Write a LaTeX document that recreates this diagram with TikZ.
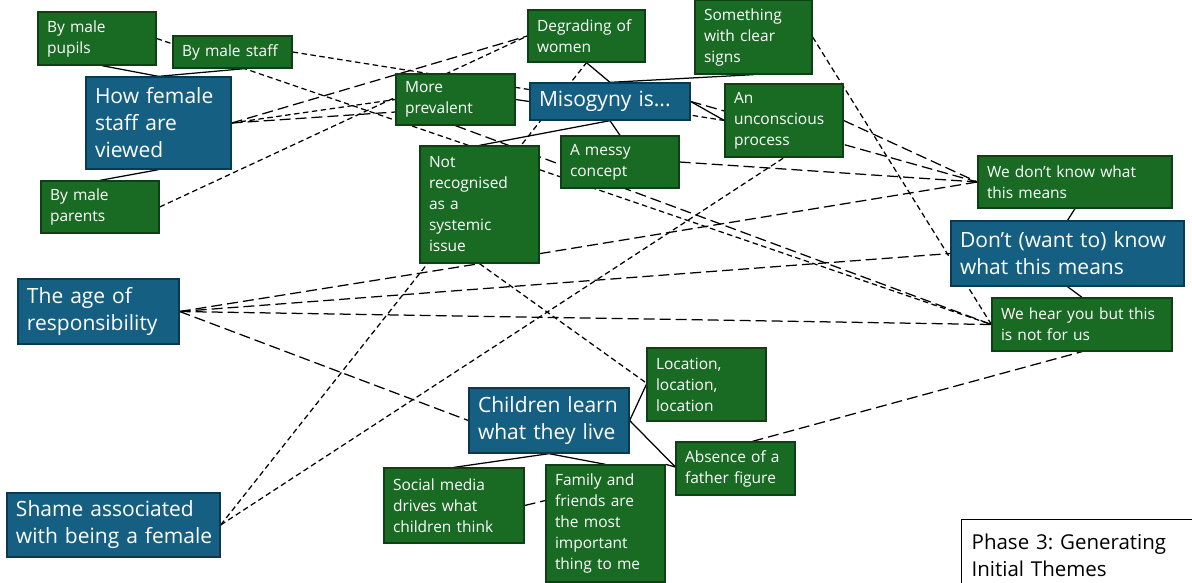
\documentclass[tikz,border=0pt]{standalone}
\usepackage{fontspec}
\setmainfont{Open Sans}
\usetikzlibrary{backgrounds}
\definecolor{gfill}{HTML}{196B24}
\definecolor{gline}{HTML}{0E3F15}
\definecolor{bfill}{HTML}{156082}
\definecolor{bline}{HTML}{0B3A50}
\tikzset{
  box/.style={draw, line width=1.3pt, inner xsep=9pt, inner ysep=2pt, align=left, text=white},
  gbox/.style={box, fill=gfill, draw=gline, font=\fontsize{15.5}{21}\selectfont},
  bbox/.style={box, fill=bfill, draw=bline, font=\fontsize{21}{27}\selectfont},
  con/.style={line width=1.25pt, black},
  sd/.style={con, dash pattern=on 5.5pt off 3.5pt},
  ld/.style={con, dash pattern=on 11pt off 5pt},
}
\begin{document}
\lefthyphenmin=100 \righthyphenmin=100 \hyphenpenalty=10000
\begin{tikzpicture}[x=1pt,y=-1pt]
\useasboundingbox (0,0) rectangle (1192,582);

% boxes
\node[gbox, text width=100pt, minimum height=53pt] (pupils) at (97,38.5) {By~male\\pupils};
\node[gbox, text width=101pt, minimum height=32pt] (staff) at (232.5,52) {By~male~staff};
\node[bbox, text width=127pt, minimum height=92pt] (howfemale) at (158.5,123) {How~female\\staff~are\\viewed};
\node[gbox, text width=100pt, minimum height=52pt] (parents) at (100,207) {By~male\\parents};
\node[gbox, text width=99pt, minimum height=52pt] (degrading) at (586.5,36) {Degrading~of\\women};
\node[gbox, text width=99pt, minimum height=74pt] (something) at (753.5,37) {Something\\with~clear\\signs};
\node[gbox, text width=101pt, minimum height=51pt] (prevalent) at (455.5,99.5) {More\\prevalent};
\node[bbox, text width=142pt, minimum height=37pt] (misogyny) at (610,101.5) {Misogyny~is...};
\node[gbox, text width=100pt, minimum height=73pt] (unconscious) at (784,120.5) {An\\unconscious\\process};
\node[gbox, text width=101pt, minimum height=117pt] (notrec) at (479.5,204.5) {Not\\recognised\\as~a\\systemic\\issue};
\node[gbox, text width=100pt, minimum height=52pt] (messy) at (620,162) {A~messy\\concept};
\node[gbox, text width=176pt, minimum height=52pt] (dontknowG) at (1075,182) {We~don’t~know~what\\this~means};
\node[bbox, text width=215pt, minimum height=65pt] (dontwant) at (1067.5,253.5) {Don’t~(want~to)~know\\what~this~means};
\node[gbox, text width=162pt, minimum height=53pt] (hear) at (1082,324.5) {We~hear~you~but~this\\is~not~for~us};
\node[bbox, text width=143pt, minimum height=65pt] (age) at (98.5,311.5) {The~age~of\\responsibility};
\node[bbox, text width=195pt, minimum height=64pt] (shame) at (113.5,525) {Shame~associated\\with~being~a~female};
\node[bbox, text width=142pt, minimum height=65pt] (children) at (549,420.5) {Children~learn\\what~they~live};
\node[gbox, text width=101pt, minimum height=73pt] (location) at (706.5,384.5) {Location,\\location,\\location};
\node[gbox, text width=101pt, minimum height=53pt] (absence) at (735.5,468.5) {Absence~of~a\\father~figure};
\node[gbox, text width=122pt, minimum height=75pt] (social) at (454,505.5) {Social~media\\drives~what\\children~think};
\node[gbox, text width=101pt, minimum height=117pt] (family) at (605.5,523.5) {Family~and\\friends~are\\the~most\\important\\thing~to~me};
\node[draw=black, line width=1.3pt, fill=white, anchor=north west, text width=230pt, inner xsep=10pt, inner ysep=4pt, minimum height=72pt, align=left, font=\fontsize{20.5}{27}\selectfont] (phase) at (961,519) {Phase~3:~Generating\\Initial~Themes};

\begin{scope}[on background layer]
% solid connectors
\draw[con] ([xshift=5pt]pupils.south) -- (howfemale.north);
\draw[con] ([xshift=12pt]staff.south) -- (howfemale.north);
\draw[con] (howfemale.south) -- (parents.north);
\draw[con] (degrading.south) -- (misogyny.north);
\draw[con] (misogyny.north) -- (something.south);
\draw[con] (prevalent.east) -- (misogyny.west);
\draw[con] (misogyny.east) -- (unconscious.west);
\draw[con] (misogyny.south) -- (notrec.north);
\draw[con] (misogyny.south) -- (messy.north);
\draw[con] (dontknowG.south) -- (dontwant.north);
\draw[con] (dontwant.south) -- (hear.north);
\draw[con] (children.east) -- (location.west);
\draw[con] (children.east) -- ([yshift=1.5pt]absence.west);
\draw[con] (children.south) -- (social.north);
\draw[con] (children.south) -- (family.north);
\draw[con] (family.north east) -- ([yshift=1.5pt]absence.west);
% dashed connectors
\draw[sd] (pupils.east) -- (hear.west);
\draw[ld] (prevalent.south) -- (hear.west);
\draw[sd] (staff.east) -- (unconscious.west);
\draw[ld] (howfemale.east) -- (degrading.west);
\draw[sd] (howfemale.east) -- (prevalent.west);
\draw[ld] (howfemale.east) -- ([yshift=-12.5pt]prevalent.west);
\draw[sd] (parents.east) -- (degrading.west);
\draw[sd] (shame.east) -- (degrading.south);
\draw[sd] (shame.east) -- (unconscious.south);
\draw[ld] (misogyny.east) -- (dontknowG.west);
\draw[ld] (unconscious.east) -- (dontknowG.west);
\draw[ld] (messy.east) -- (dontknowG.west);
\draw[ld] ([yshift=10pt]notrec.south east) -- (dontknowG.west);
\draw[ld] (age.east) -- (dontwant.west);
\draw[ld] (age.east) -- (hear.west);
\draw[ld] (age.east) -- (notrec.south);
\draw[ld] (age.east) -- (children.west);
\draw[sd] (something.east) -- (hear.west);
\draw[sd] (notrec.south) -- ([yshift=1.5pt]location.west);
\draw[ld] ([xshift=17pt]absence.north) -- (hear.south);
\draw[ld] (social.east) -- ([yshift=23pt]family.west);
\end{scope}
\end{tikzpicture}
\end{document}
